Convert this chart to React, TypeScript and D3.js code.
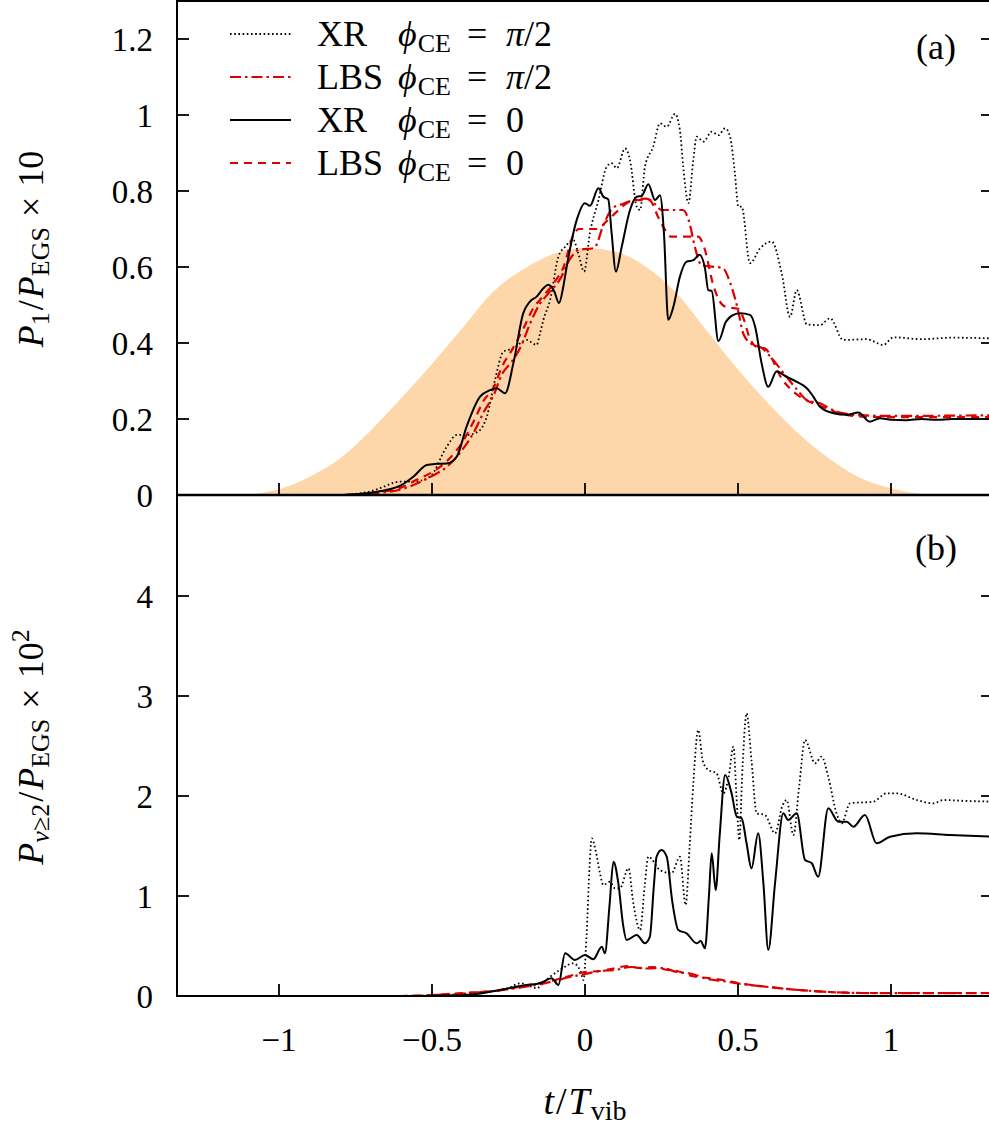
import React from 'react';
import * as d3 from 'd3';

type P = [number, number];

// ---- data (t / T_vib, value) ----
const envelope: P[] = [[-1.15,0],[-1.1,0.002],[-1.0,0.015],[-0.9,0.048],[-0.8,0.097],[-0.7,0.17],[-0.6,0.255],[-0.5,0.345],[-0.4,0.44],[-0.3,0.535],[-0.2,0.595],[-0.1,0.635],[0,0.65],[0.1,0.64],[0.2,0.6],[0.3,0.53],[0.4,0.43],[0.5,0.33],[0.6,0.24],[0.7,0.16],[0.8,0.095],[0.9,0.045],[1.0,0.018],[1.1,0.003],[1.16,0]];

const topXRpi2: P[] = [[-1.34,0],[-0.8,0],[-0.75,0.003],[-0.7,0.01],[-0.67,0.018],[-0.605,0.035],[-0.561,0.035],[-0.507,0.048],[-0.452,0.127],[-0.419,0.158],[-0.387,0.158],[-0.349,0.167],[-0.321,0.206],[-0.294,0.303],[-0.267,0.377],[-0.234,0.386],[-0.191,0.408],[-0.158,0.395],[-0.147,0.425],[-0.136,0.461],[-0.114,0.513],[-0.087,0.627],[-0.065,0.653],[-0.038,0.671],[-0.022,0.636],[-0.003,0.588],[0.016,0.689],[0.044,0.776],[0.071,0.864],[0.087,0.873],[0.104,0.86],[0.131,0.912],[0.147,0.882],[0.169,0.759],[0.18,0.75],[0.196,0.864],[0.223,0.917],[0.245,0.978],[0.267,0.969],[0.294,1.003],[0.31,0.961],[0.321,0.864],[0.338,0.768],[0.354,0.882],[0.365,0.943],[0.387,0.93],[0.414,0.956],[0.436,0.947],[0.458,0.965],[0.474,0.943],[0.49,0.846],[0.501,0.759],[0.512,0.759],[0.539,0.61],[0.572,0.649],[0.61,0.667],[0.643,0.583],[0.67,0.469],[0.692,0.539],[0.725,0.449],[0.768,0.447],[0.801,0.465],[0.844,0.408],[0.92,0.41],[0.975,0.395],[1.008,0.415],[1.1,0.41],[1.2,0.414],[1.34,0.412]];

const topLBSpi2: P[] = [[-1.34,0],[-0.8,0],[-0.7,0.004],[-0.6,0.015],[-0.55,0.03],[-0.5,0.05],[-0.45,0.075],[-0.4,0.12],[-0.36,0.17],[-0.33,0.22],[-0.3,0.26],[-0.27,0.32],[-0.24,0.35],[-0.21,0.39],[-0.18,0.45],[-0.15,0.5],[-0.12,0.53],[-0.08,0.57],[-0.05,0.62],[-0.02,0.645],[0.03,0.65],[0.06,0.71],[0.09,0.755],[0.12,0.765],[0.16,0.776],[0.2,0.78],[0.23,0.765],[0.25,0.75],[0.32,0.75],[0.34,0.72],[0.36,0.65],[0.38,0.605],[0.45,0.597],[0.475,0.557],[0.5,0.487],[0.517,0.425],[0.54,0.4],[0.58,0.386],[0.61,0.36],[0.65,0.32],[0.69,0.28],[0.725,0.25],[0.77,0.241],[0.82,0.22],[0.9,0.21],[1.0,0.208],[1.34,0.21]];

const topXR0: P[] = [[-1.34,0],[-0.8,0],[-0.75,0.002],[-0.7,0.006],[-0.65,0.013],[-0.6,0.026],[-0.561,0.048],[-0.517,0.079],[-0.485,0.082],[-0.452,0.083],[-0.419,0.101],[-0.387,0.18],[-0.343,0.259],[-0.31,0.276],[-0.289,0.281],[-0.261,0.268],[-0.234,0.347],[-0.202,0.478],[-0.18,0.509],[-0.158,0.522],[-0.136,0.544],[-0.12,0.553],[-0.1,0.535],[-0.085,0.505],[-0.071,0.548],[-0.06,0.6],[-0.027,0.724],[0,0.768],[0.016,0.761],[0.044,0.807],[0.06,0.785],[0.076,0.778],[0.087,0.689],[0.101,0.588],[0.12,0.653],[0.147,0.75],[0.169,0.785],[0.185,0.787],[0.207,0.818],[0.229,0.776],[0.245,0.789],[0.258,0.689],[0.272,0.461],[0.289,0.496],[0.31,0.574],[0.332,0.614],[0.354,0.618],[0.374,0.632],[0.392,0.597],[0.403,0.539],[0.414,0.537],[0.436,0.405],[0.46,0.455],[0.485,0.474],[0.507,0.478],[0.539,0.474],[0.556,0.443],[0.577,0.347],[0.599,0.285],[0.626,0.325],[0.659,0.311],[0.692,0.298],[0.725,0.281],[0.746,0.259],[0.768,0.232],[0.812,0.215],[0.855,0.211],[0.893,0.217],[0.931,0.193],[0.964,0.202],[1.0,0.198],[1.05,0.197],[1.1,0.2],[1.15,0.198],[1.2,0.2],[1.34,0.2]];

const topLBS0: P[] = [[-1.34,0],[-0.8,0],[-0.7,0.005],[-0.6,0.02],[-0.55,0.04],[-0.5,0.06],[-0.45,0.09],[-0.4,0.14],[-0.36,0.2],[-0.33,0.25],[-0.3,0.28],[-0.27,0.34],[-0.24,0.38],[-0.2,0.44],[-0.17,0.49],[-0.14,0.52],[-0.1,0.56],[-0.07,0.6],[-0.04,0.68],[-0.02,0.7],[0.04,0.7],[0.07,0.72],[0.11,0.75],[0.14,0.77],[0.17,0.776],[0.21,0.776],[0.24,0.73],[0.26,0.7],[0.28,0.68],[0.37,0.68],[0.39,0.65],[0.42,0.55],[0.44,0.51],[0.46,0.495],[0.5,0.49],[0.52,0.46],[0.535,0.42],[0.56,0.39],[0.59,0.385],[0.61,0.36],[0.64,0.31],[0.67,0.28],[0.7,0.26],[0.75,0.24],[0.79,0.228],[0.83,0.215],[0.92,0.206],[1.0,0.205],[1.34,0.205]];

const botXRpi2: P[] = [[-1.34,0],[-0.6,0],[-0.5,0.005],[-0.4,0.02],[-0.35,0.03],[-0.3,0.05],[-0.25,0.08],[-0.212,0.127],[-0.18,0.1],[-0.158,0.077],[-0.14,0.12],[-0.114,0.193],[-0.082,0.26],[-0.038,0.327],[-0.015,0.25],[-0.005,0.16],[0.005,0.6],[0.015,1.3],[0.022,1.577],[0.035,1.45],[0.049,1.227],[0.06,1.11],[0.082,1.143],[0.096,1.08],[0.114,1.077],[0.142,1.277],[0.158,0.927],[0.18,0.66],[0.195,1.1],[0.207,1.393],[0.245,1.26],[0.283,1.227],[0.31,1.393],[0.329,0.91],[0.342,1.5],[0.354,2.127],[0.37,2.66],[0.385,2.35],[0.403,2.26],[0.43,2.227],[0.452,2.027],[0.47,2.2],[0.485,2.493],[0.495,2.0],[0.504,1.56],[0.515,2.3],[0.528,2.827],[0.544,2.36],[0.561,1.827],[0.588,1.81],[0.621,1.627],[0.645,1.9],[0.659,1.96],[0.681,1.61],[0.7,2.1],[0.719,2.56],[0.752,2.327],[0.773,2.393],[0.795,2.193],[0.822,1.827],[0.839,1.727],[0.866,1.927],[0.942,1.943],[0.986,2.027],[1.019,2.027],[1.084,1.96],[1.139,1.927],[1.171,1.96],[1.25,1.95],[1.34,1.943]];

const botXR0: P[] = [[-1.34,0],[-0.6,0],[-0.5,0.003],[-0.387,0.01],[-0.278,0.06],[-0.191,0.11],[-0.147,0.127],[-0.109,0.177],[-0.087,0.11],[-0.065,0.427],[-0.033,0.36],[0,0.41],[0.027,0.367],[0.055,0.493],[0.065,0.427],[0.08,0.9],[0.093,1.343],[0.109,1.127],[0.125,0.7],[0.136,0.56],[0.169,0.61],[0.196,0.527],[0.212,0.593],[0.225,1.1],[0.234,1.393],[0.25,1.46],[0.267,1.393],[0.285,0.95],[0.305,0.66],[0.332,0.627],[0.365,0.527],[0.378,0.55],[0.392,0.477],[0.405,1.0],[0.414,1.427],[0.427,1.06],[0.44,1.6],[0.458,2.21],[0.479,2.027],[0.496,1.793],[0.512,1.777],[0.528,1.527],[0.544,1.277],[0.566,1.627],[0.583,1.127],[0.599,0.46],[0.621,1.127],[0.648,1.827],[0.664,1.76],[0.692,1.827],[0.719,1.36],[0.741,1.327],[0.762,1.193],[0.795,1.877],[0.828,1.743],[0.855,1.743],[0.877,1.693],[0.915,1.81],[0.953,1.527],[0.997,1.593],[1.084,1.627],[1.193,1.61],[1.34,1.593]];

const botLBSpi2: P[] = [[-1.34,0],[-0.6,0],[-0.5,0.008],[-0.4,0.025],[-0.3,0.05],[-0.2,0.09],[-0.1,0.15],[-0.05,0.19],[0,0.22],[0.05,0.25],[0.1,0.26],[0.15,0.29],[0.2,0.275],[0.25,0.28],[0.3,0.24],[0.35,0.22],[0.4,0.17],[0.45,0.15],[0.5,0.125],[0.6,0.09],[0.7,0.06],[0.8,0.04],[0.9,0.03],[1.0,0.028],[1.34,0.028]];

const botLBS0: P[] = [[-1.34,0],[-0.6,0],[-0.5,0.01],[-0.4,0.03],[-0.3,0.05],[-0.2,0.1],[-0.15,0.13],[-0.1,0.16],[-0.05,0.2],[0,0.24],[0.05,0.25],[0.1,0.28],[0.14,0.3],[0.18,0.28],[0.22,0.29],[0.27,0.26],[0.3,0.25],[0.35,0.2],[0.4,0.18],[0.45,0.16],[0.5,0.13],[0.6,0.09],[0.7,0.06],[0.8,0.04],[0.9,0.03],[1.0,0.03],[1.34,0.03]];

const xTicks = [-1, -0.5, 0, 0.5, 1];
const xTickLabels = ['\u22121', '\u22120.5', '0', '0.5', '1'];
const topYTicks = [0, 0.2, 0.4, 0.6, 0.8, 1, 1.2];
const topYLabels = ['0', '0.2', '0.4', '0.6', '0.8', '1', '1.2'];
const botYTicks = [0, 1, 2, 3, 4];
const botYLabels = ['0', '1', '2', '3', '4'];
const legendNames = ['XR', 'LBS', 'XR', 'LBS'];
const legendPhase = ['\u03c0/2', '\u03c0/2', '0', '0'];

// ---- layout ----
const W = 989, H = 1126;
const L = 177, R = 993;
const TOP0 = 1, MID = 495, BOT = 996;
const FONT = '"Liberation Serif", "DejaVu Serif", serif';
const TFS = 33;   // tick labels
const FS = 36;    // labels / legend
const SFS = 26;   // subscripts
const RED = '#dd0000';

const styles = {
  xrPi2: { stroke: '#000', width: 1.8, dash: '1.6 2.6' },
  lbsPi2: { stroke: RED, width: 2.2, dash: '11 4 2.5 4' },
  xr0: { stroke: '#000', width: 2, dash: 'none' },
  lbs0: { stroke: RED, width: 2.2, dash: '8 6' },
};

export default function App() {
  const x = d3.scaleLinear().domain([-4 / 3, 4 / 3]).range([L, R]);
  const yT = d3.scaleLinear().domain([0, 1.3]).range([MID, TOP0]);
  const yB = d3.scaleLinear().domain([0, 5]).range([BOT, MID + 1]);

  const lineT = d3.line<P>().x(d => x(d[0])).y(d => yT(d[1])).curve(d3.curveMonotoneX);
  const lineB = d3.line<P>().x(d => x(d[0])).y(d => yB(d[1])).curve(d3.curveMonotoneX);
  const area = d3.area<P>().x(d => x(d[0])).y0(yT(0)).y1(d => yT(d[1])).curve(d3.curveMonotoneX);

  const path = (d: string | null, s: { stroke: string; width: number; dash: string }, key: string) => (
    <path key={key} d={d || ''} fill="none" stroke={s.stroke} strokeWidth={s.width}
      strokeDasharray={s.dash} strokeLinejoin="round" strokeLinecap="butt" />
  );

  const legendStyles = [styles.xrPi2, styles.lbsPi2, styles.xr0, styles.lbs0];
  const legendY = [34, 77, 120, 163];

  return (
    <svg width={W} height={H} viewBox={`0 0 ${W} ${H}`}
      style={{ position: 'absolute', left: 0, top: 0, background: '#fff' }}
      fontFamily={FONT}>
      <defs>
        <clipPath id="cTop"><rect x={L} y={TOP0} width={R - L} height={MID - TOP0} /></clipPath>
        <clipPath id="cBot"><rect x={L} y={MID} width={R - L} height={BOT - MID} /></clipPath>
      </defs>
      <rect x={0} y={0} width={W} height={H} fill="#fff" />

      {/* top panel */}
      <g clipPath="url(#cTop)">
        <path d={area(envelope) || ''} fill="#fdd7aa" stroke="none" />
        {path(lineT(topXRpi2), styles.xrPi2, 'a1')}
        {path(lineT(topLBSpi2), styles.lbsPi2, 'a2')}
        {path(lineT(topLBS0), styles.lbs0, 'a4')}
        {path(lineT(topXR0), styles.xr0, 'a3')}
      </g>

      {/* bottom panel */}
      <g clipPath="url(#cBot)">
        {path(lineB(botXRpi2), styles.xrPi2, 'b1')}
        {path(lineB(botLBSpi2), styles.lbsPi2, 'b2')}
        {path(lineB(botLBS0), styles.lbs0, 'b4')}
        {path(lineB(botXR0), styles.xr0, 'b3')}
      </g>

      {/* frames */}
      <rect x={L} y={TOP0} width={R - L} height={MID - TOP0} fill="none" stroke="#000" strokeWidth={2} />
      <rect x={L} y={MID} width={R - L} height={BOT - MID} fill="none" stroke="#000" strokeWidth={2} />
      <line x1={L} x2={R} y1={MID} y2={MID} stroke="#000" strokeWidth={2.6} />

      {/* ticks */}
      {xTicks.map(t => (
        <g key={'xt' + t}>
          <line x1={x(t)} x2={x(t)} y1={BOT} y2={BOT - 12} stroke="#000" strokeWidth={1.8} />
          <line x1={x(t)} x2={x(t)} y1={MID} y2={MID - 12} stroke="#000" strokeWidth={1.8} />
        </g>
      ))}
      {topYTicks.map(v => (
        <g key={'yt' + v}>
          <line x1={L} x2={L + 12} y1={yT(v)} y2={yT(v)} stroke="#000" strokeWidth={1.8} />
          <line x1={R} x2={R - 12} y1={yT(v)} y2={yT(v)} stroke="#000" strokeWidth={1.8} />
        </g>
      ))}
      {botYTicks.map(v => (
        <g key={'yb' + v}>
          <line x1={L} x2={L + 12} y1={yB(v)} y2={yB(v)} stroke="#000" strokeWidth={1.8} />
          <line x1={R} x2={R - 12} y1={yB(v)} y2={yB(v)} stroke="#000" strokeWidth={1.8} />
        </g>
      ))}

      {/* tick labels */}
      {topYTicks.map((v, i) => (
        <text key={'tyl' + v} x={153} y={yT(v) + 11.5} fontSize={TFS} textAnchor="end">{topYLabels[i]}</text>
      ))}
      {botYTicks.map((v, i) => (
        <text key={'byl' + v} x={153} y={yB(v) + 11.5} fontSize={TFS} textAnchor="end">{botYLabels[i]}</text>
      ))}
      {xTicks.map((t, i) => (
        <text key={'xl' + t} x={x(t)} y={1051} fontSize={TFS} textAnchor="middle">{xTickLabels[i]}</text>
      ))}

      {/* axis labels */}
      <text x={585} y={1114} fontSize={FS + 2} textAnchor="middle">
        <tspan fontStyle="italic">t</tspan><tspan dx={2}>/</tspan><tspan dx={2} fontStyle="italic">T</tspan>
        <tspan fontSize={SFS + 2} dy={6} dx={1}>vib</tspan>
      </text>
      <text transform="translate(43,249) rotate(-90)" fontSize={FS} textAnchor="middle">
        <tspan fontStyle="italic">P</tspan>
        <tspan fontSize={SFS} dy={6}>1</tspan>
        <tspan dy={-6} dx={2}>/</tspan>
        <tspan dx={2} fontStyle="italic">P</tspan>
        <tspan fontSize={SFS} dy={6}>EGS</tspan>
        <tspan dy={-6} dx={10}>{'\u00d7'}</tspan>
        <tspan dx={10}>10</tspan>
      </text>
      <text transform="translate(43,747) rotate(-90)" fontSize={FS} textAnchor="middle">
        <tspan fontStyle="italic">P</tspan>
        <tspan fontSize={SFS} dy={6} fontStyle="italic">v</tspan>
        <tspan fontSize={SFS}>{'\u22652'}</tspan>
        <tspan dy={-6} dx={2}>/</tspan>
        <tspan dx={2} fontStyle="italic">P</tspan>
        <tspan fontSize={SFS} dy={6}>EGS</tspan>
        <tspan dy={-6} dx={10}>{'\u00d7'}</tspan>
        <tspan dx={10}>10</tspan>
        <tspan fontSize={SFS} dy={-14}>2</tspan>
      </text>

      {/* panel labels */}
      <text x={936} y={59} fontSize={FS} textAnchor="middle">(a)</text>
      <text x={936} y={560} fontSize={FS} textAnchor="middle">(b)</text>

      {/* legend */}
      {legendNames.map((n, i) => {
        const s = legendStyles[i];
        const ly = legendY[i];
        const isPi = legendPhase[i].startsWith('\u03c0');
        return (
          <g key={'lg' + i}>
            <line x1={230} x2={291} y1={ly} y2={ly} stroke={s.stroke} strokeWidth={s.width} strokeDasharray={s.dash} />
            <text x={317} y={ly + 12} fontSize={FS}>{n}</text>
            <text x={398} y={ly + 12} fontSize={FS}>
              <tspan fontStyle="italic">{'\u03d5'}</tspan>
              <tspan fontSize={SFS} dy={6} dx={1}>CE</tspan>
            </text>
            <text x={467} y={ly + 12} fontSize={FS}>=</text>
            <text x={506} y={ly + 12} fontSize={FS}>
              {isPi ? <><tspan fontStyle="italic">{'\u03c0'}</tspan><tspan>/2</tspan></> : legendPhase[i]}
            </text>
          </g>
        );
      })}
    </svg>
  );
}
